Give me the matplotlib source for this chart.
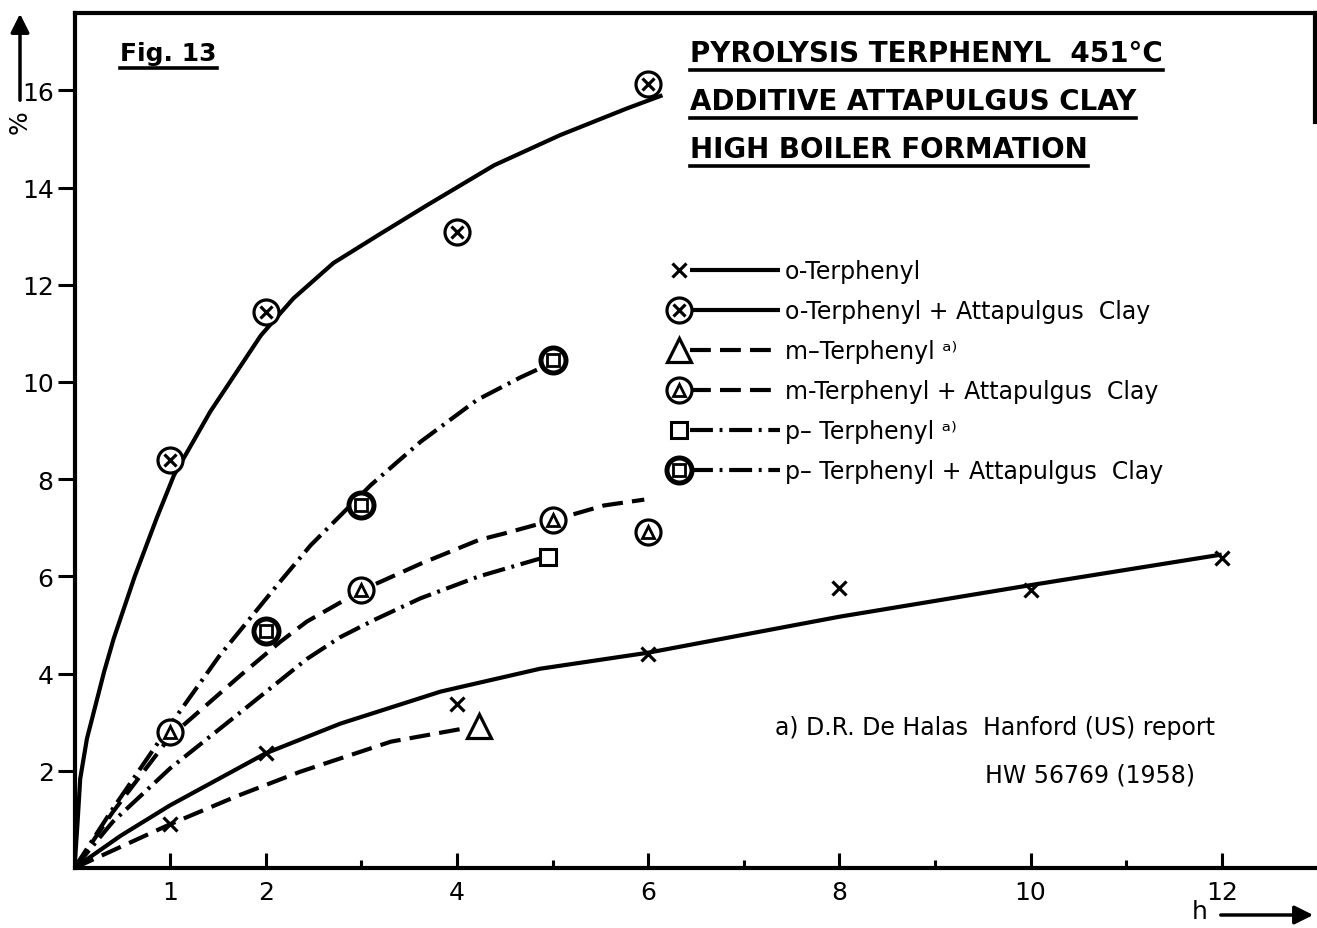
import matplotlib.pyplot as plt
from matplotlib.lines import Line2D
from matplotlib.legend_handler import HandlerBase

plt.rcParams['font.family'] = ['DejaVu Sans']

W, H = 1317, 929

# measured points (h, %)
o_ter_x = [1, 2, 4, 6, 8, 10, 12]
o_ter_y = [0.9, 2.36, 3.38, 4.41, 5.77, 5.72, 6.38]
o_clay_x = [1, 2, 4, 6]
o_clay_y = [8.39, 11.44, 13.09, 16.14]
m_ter_x = [4.23]
m_ter_y = [2.93]
m_clay_x = [1, 3, 5, 6]
m_clay_y = [2.8, 5.72, 7.16, 6.92]
p_ter_x = [4.95]
p_ter_y = [6.4]
p_clay_x = [2, 3, 5]
p_clay_y = [4.87, 7.47, 10.45]

# hand drawn curves
o_ter_cx = [0, 0.48, 1, 2, 2.78, 3.83, 4.87, 6, 8, 10, 12]
o_ter_cy = [0, 0.66, 1.29, 2.36, 2.97, 3.63, 4.10, 4.43, 5.17, 5.82, 6.45]
o_clay_cx = [0, 0.03, 0.06, 0.13, 0.22, 0.31, 0.41, 0.63, 0.86, 1.04, 1.42,
             1.95, 2.29, 2.71, 3.2, 3.69, 4.39, 5.08, 5.78, 6.15]
o_clay_cy = [0, 0.88, 1.84, 2.66, 3.35, 4.04, 4.72, 6.0, 7.2, 8.08, 9.39,
             10.96, 11.72, 12.45, 13.05, 13.64, 14.46, 15.08, 15.63, 15.9]
m_ter_cx = [0, 1, 1.7, 2.36, 3.31, 4.1]
m_ter_cy = [0, 0.9, 1.48, 1.98, 2.6, 2.88]
m_clay_cx = [0, 0.4, 1, 1.74, 2.15, 2.43, 3.01, 3.62, 4.23, 4.49, 5.01, 5.54, 5.96]
m_clay_cy = [0, 1.15, 2.7, 3.97, 4.65, 5.07, 5.72, 6.26, 6.75, 6.88, 7.16, 7.46, 7.58]
p_ter_cx = [0, 0.4, 1, 1.74, 2.43, 2.78, 3.13, 3.62, 4.23, 4.84, 4.95]
p_ter_cy = [0, 0.95, 2.05, 3.21, 4.3, 4.75, 5.1, 5.55, 6.0, 6.35, 6.4]
p_clay_cx = [0, 0.38, 1, 1.51, 2.12, 2.47, 3.10, 3.62, 4.21, 4.67, 5.0]
p_clay_cy = [0, 1.16, 2.94, 4.35, 5.82, 6.64, 7.88, 8.77, 9.63, 10.1, 10.4]

x_ticks = [1, 2, 4, 6, 8, 10, 12]
x_minor = [3, 5, 7, 9, 11]
y_ticks = [2, 4, 6, 8, 10, 12, 14, 16]

labels = ['o-Terphenyl',
          'o-Terphenyl + Attapulgus  Clay',
          'm\u2013Terphenyl \u1d43\u207e',
          'm-Terphenyl + Attapulgus  Clay',
          'p\u2013 Terphenyl \u1d43\u207e',
          'p\u2013 Terphenyl + Attapulgus  Clay']

SOLID = '-'
DASH = (0, (5, 2.2))
DASHDOT = (0, (5.5, 1.6, 0.7, 1.6))
LW = 3.0


class LeftMarkerHandler(HandlerBase):
    # marker at the left end, line sample to the right of it
    def create_artists(self, legend, orig_handle, xdescent, ydescent,
                       width, height, fontsize, trans):
        marks, line = orig_handle
        y = height / 2 - ydescent
        x0 = -xdescent
        seg = Line2D([x0 + 0.2 * width, x0 + width], [y, y])
        self.update_prop(seg, line, legend)
        seg.set_marker('None')
        seg.set_transform(trans)
        arts = [seg]
        for m in marks:
            mk = Line2D([x0 + 0.1 * width], [y])
            self.update_prop(mk, m, legend)
            mk.set_linestyle('None')
            mk.set_transform(trans)
            arts.append(mk)
        return arts


fig = plt.figure(figsize=(W / 100, H / 100), dpi=100)
x_left, x_right, y_bot, y_top = 74.5, 1315, 869, 14
ax = fig.add_axes([x_left / W, 1 - y_bot / H, (x_right - x_left) / W, (y_bot - y_top) / H])
ax.set_xlim(0, (x_right - x_left) / 95.6)
ax.set_ylim(0, (y_bot - y_top) / 48.6)

# curves
l_oter, = ax.plot(o_ter_cx, o_ter_cy, color='k', lw=LW, ls=SOLID, solid_capstyle='butt')
l_oclay, = ax.plot(o_clay_cx, o_clay_cy, color='k', lw=LW, ls=SOLID, solid_capstyle='butt')
l_mter, = ax.plot(m_ter_cx, m_ter_cy, color='k', lw=LW, ls=DASH)
l_mclay, = ax.plot(m_clay_cx, m_clay_cy, color='k', lw=LW, ls=DASH)
l_pter, = ax.plot(p_ter_cx, p_ter_cy, color='k', lw=LW, ls=DASHDOT)
l_pclay, = ax.plot(p_clay_cx, p_clay_cy, color='k', lw=LW, ls=DASHDOT)

# markers
mk = dict(ls='none', color='k', zorder=5)
m_oter, = ax.plot(o_ter_x, o_ter_y, marker='x', ms=10, mew=2.3, **mk)
m_oclay1, = ax.plot(o_clay_x, o_clay_y, marker='o', ms=18, mew=2.3, mfc='white', mec='k', **mk)
m_oclay2, = ax.plot(o_clay_x, o_clay_y, marker='x', ms=9, mew=2.3, **mk)
m_mter, = ax.plot(m_ter_x, m_ter_y, marker='^', ms=17, mew=2.3, mfc='white', mec='k', **mk)
m_mclay1, = ax.plot(m_clay_x, m_clay_y, marker='o', ms=18, mew=2.3, mfc='white', mec='k', **mk)
m_mclay2, = ax.plot(m_clay_x, m_clay_y, marker='^', ms=9, mew=2, mfc='white', mec='k', **mk)
m_pter, = ax.plot(p_ter_x, p_ter_y, marker='s', ms=12, mew=2.2, mfc='white', mec='k', **mk)
m_pclay1, = ax.plot(p_clay_x, p_clay_y, marker='o', ms=18, mew=3.6, mfc='white', mec='k', **mk)
m_pclay2, = ax.plot(p_clay_x, p_clay_y, marker='s', ms=8.5, mew=2, mfc='white', mec='k', **mk)

handles = [((m_oter,), l_oter),
           ((m_oclay1, m_oclay2), l_oclay),
           ((m_mter,), l_mter),
           ((m_mclay1, m_mclay2), l_mclay),
           ((m_pter,), l_pter),
           ((m_pclay1, m_pclay2), l_pclay)]
ax.legend(handles, labels, handler_map={tuple: LeftMarkerHandler()},
          loc='upper left', bbox_to_anchor=(668 / W, 1 - 260 / H),
          bbox_transform=fig.transFigure, frameon=False, fontsize=17,
          handlelength=4.75, handletextpad=0.2, labelspacing=0.68,
          borderpad=0, borderaxespad=0)

# axes styling
for s in ['left', 'bottom', 'top', 'right']:
    ax.spines[s].set_linewidth(3)
ax.spines['right'].set_bounds((y_bot - 123) / 48.6, (y_bot - y_top) / 48.6)
ax.set_xticks(x_ticks)
ax.set_xticks(x_minor, minor=True)
ax.set_yticks(y_ticks)
ax.tick_params(axis='x', which='major', direction='in', length=11, width=2.2,
               labelsize=18, pad=9)
ax.tick_params(axis='x', which='minor', direction='in', length=6, width=2.2)
ax.tick_params(axis='y', direction='out', length=12, width=2.2, labelsize=18, pad=3)

# axis labels with arrows
ax.annotate('', xy=(20 / W, 1 - 12 / H), xytext=(20 / W, 1 - 104 / H),
            xycoords='figure fraction', textcoords='figure fraction',
            arrowprops=dict(arrowstyle='-|>', lw=2.5, color='k', mutation_scale=28))
fig.text(20 / W, 1 - 122 / H, '%', rotation=90, ha='center', va='center', fontsize=18)
ax.annotate('', xy=(1316 / W, 1 - 916 / H), xytext=(1218 / W, 1 - 916 / H),
            xycoords='figure fraction', textcoords='figure fraction',
            arrowprops=dict(arrowstyle='-|>', lw=2.5, color='k', mutation_scale=28))
fig.text(1200 / W, 1 - 912 / H, 'h', ha='center', va='center', fontsize=18)

# headings (underlined)
heads = [(120, 54, 'Fig. 13', 18),
         (690, 54, 'PYROLYSIS TERPHENYL  451\u00b0C', 20),
         (690, 102, 'ADDITIVE ATTAPULGUS CLAY', 20),
         (690, 150, 'HIGH BOILER FORMATION', 20)]
head_texts = [fig.text(x / W, 1 - y / H, t, ha='left', va='center', fontsize=fs,
                       fontweight='bold')
              for x, y, t, fs in heads]

fig.text(775 / W, 1 - 728 / H, 'a) D.R. De Halas  Hanford (US) report',
         ha='left', va='center', fontsize=17)
fig.text(985 / W, 1 - 776 / H, 'HW 56769 (1958)', ha='left', va='center', fontsize=17)

fig.canvas.draw()
inv = fig.transFigure.inverted()
for t in head_texts:
    bb = t.get_window_extent()
    (x0, y0), (x1, _) = inv.transform([(bb.x0, bb.y0 - 3), (bb.x1, bb.y0 - 3)])
    fig.add_artist(Line2D([x0, x1], [y0, y0], color='k', lw=2.6,
                          transform=fig.transFigure))

fig.savefig('out.png', dpi=100, facecolor='white')
